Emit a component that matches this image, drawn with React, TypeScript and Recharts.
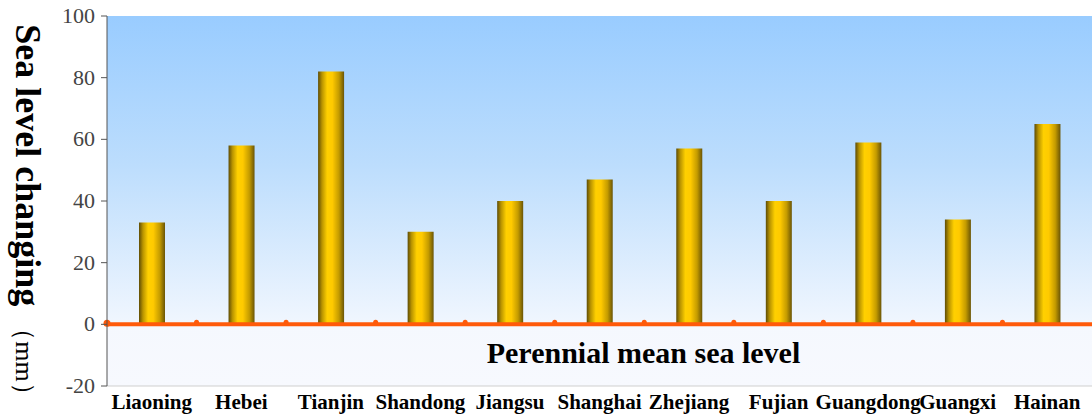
import React from "react"
import { BarChart, Bar, XAxis, YAxis, CartesianGrid, ReferenceLine, ReferenceArea, Label } from "recharts"

const provinces = [
  "Liaoning",
  "Hebei",
  "Tianjin",
  "Shandong",
  "Jiangsu",
  "Shanghai",
  "Zhejiang",
  "Fujian",
  "Guangdong",
  "Guangxi",
  "Hainan",
]

// sea level change relative to the perennial mean (mm)
const changes = [33, 58, 82, 30, 40, 47, 57, 40, 59, 34, 65]

const yTicks = [-20, 0, 20, 40, 60, 80, 100]

const data = provinces.map((name, i) => ({ name, change: changes[i] }))

const SERIF = "'Liberation Serif', 'Times New Roman', serif"

// orange zero line with small knots at the category boundaries
function ZeroLine(props: any) {
  const { x1, x2, y1 } = props
  const n = provinces.length
  const knots = Array.from({ length: n }, (_, i) => x1 + ((x2 - x1) * i) / n)
  return (
    <g>
      <line x1={x1} x2={x2} y1={y1} y2={y1} stroke="#FF5A0A" strokeWidth={4} />
      {knots.map((cx, i) =>
        i === 0 ? (
          <circle key={i} cx={cx} cy={y1 - 1} r={3.5} fill="#FF5A0A" />
        ) : (
          <circle key={i} cx={cx} cy={y1 - 2} r={2.5} fill="#FF5A0A" />
        ),
      )}
    </g>
  )
}

function ValueTick(props: any) {
  const { x, y, payload } = props
  return (
    <text x={x} y={y} dy={7} textAnchor="end" fontFamily={SERIF} fontSize={22} fill="#444">
      {payload.value}
    </text>
  )
}

function AxisTitle() {
  const x = 16
  const y = 216
  return (
    <text
      x={x}
      y={y}
      transform={`rotate(90, ${x}, ${y})`}
      textAnchor="middle"
      fill="#000"
      fontFamily={SERIF}
    >
      <tspan fontSize={36} fontWeight="bold">
        Sea level changing{" "}
      </tspan>
      <tspan fontSize={26} fontWeight="normal">
        （mm）
      </tspan>
    </text>
  )
}

function MeanLabel(props: any) {
  const { viewBox } = props
  const cx = viewBox.x + viewBox.width / 2 + 44
  return (
    <text x={cx} y={viewBox.y + 39} textAnchor="middle" fontFamily={SERIF} fontWeight="bold" fontSize={30} fill="#000">
      Perennial mean sea level
    </text>
  )
}

export default function App() {
  return (
    <div style={{ position: "absolute", left: 0, top: 0, width: 1092, height: 416, background: "#fff" }}>
      <BarChart width={1092} height={416} data={data} margin={{ top: 16, right: 0, bottom: 0, left: 0 }} barSize={26}>
        <defs>
          <linearGradient id="plotBg" x1="0" y1="0" x2="0" y2="1">
            <stop offset="0%" stopColor="#99CCFF" />
            <stop offset="40%" stopColor="#BCDDFD" />
            <stop offset="83%" stopColor="#F0F6FE" />
            <stop offset="83%" stopColor="#F5F8FE" />
            <stop offset="100%" stopColor="#F7F9FE" />
          </linearGradient>
          <linearGradient id="gold" x1="0" y1="0" x2="1" y2="0">
            <stop offset="0%" stopColor="#5E4C05" />
            <stop offset="15%" stopColor="#B89300" />
            <stop offset="35%" stopColor="#FFD000" />
            <stop offset="55%" stopColor="#FFCA00" />
            <stop offset="80%" stopColor="#C49B00" />
            <stop offset="100%" stopColor="#6A5506" />
          </linearGradient>
        </defs>
        <CartesianGrid horizontal={false} vertical={false} fill="url(#plotBg)" />
        <XAxis
          dataKey="name"
          height={30}
          axisLine={{ stroke: "#CFCFCF" }}
          tickLine={false}
          tickMargin={2}
          interval={0}
          tick={{ fontFamily: SERIF, fontWeight: "bold", fontSize: 21, fill: "#000" }}
        />
        <YAxis
          width={107}
          domain={[-20, 100]}
          ticks={yTicks}
          axisLine={{ stroke: "#555" }}
          tickLine={{ stroke: "#555" }}
          tickSize={6}
          tickMargin={6}
          tick={ValueTick}
          label={<Label content={AxisTitle} />}
        />
        <ReferenceArea y1={-20} y2={0} fillOpacity={0} strokeOpacity={0} label={<Label content={MeanLabel} />} />
        <Bar dataKey="change" fill="url(#gold)" isAnimationActive={false} />
        <ReferenceLine y={0} shape={ZeroLine} />
      </BarChart>
    </div>
  )
}
